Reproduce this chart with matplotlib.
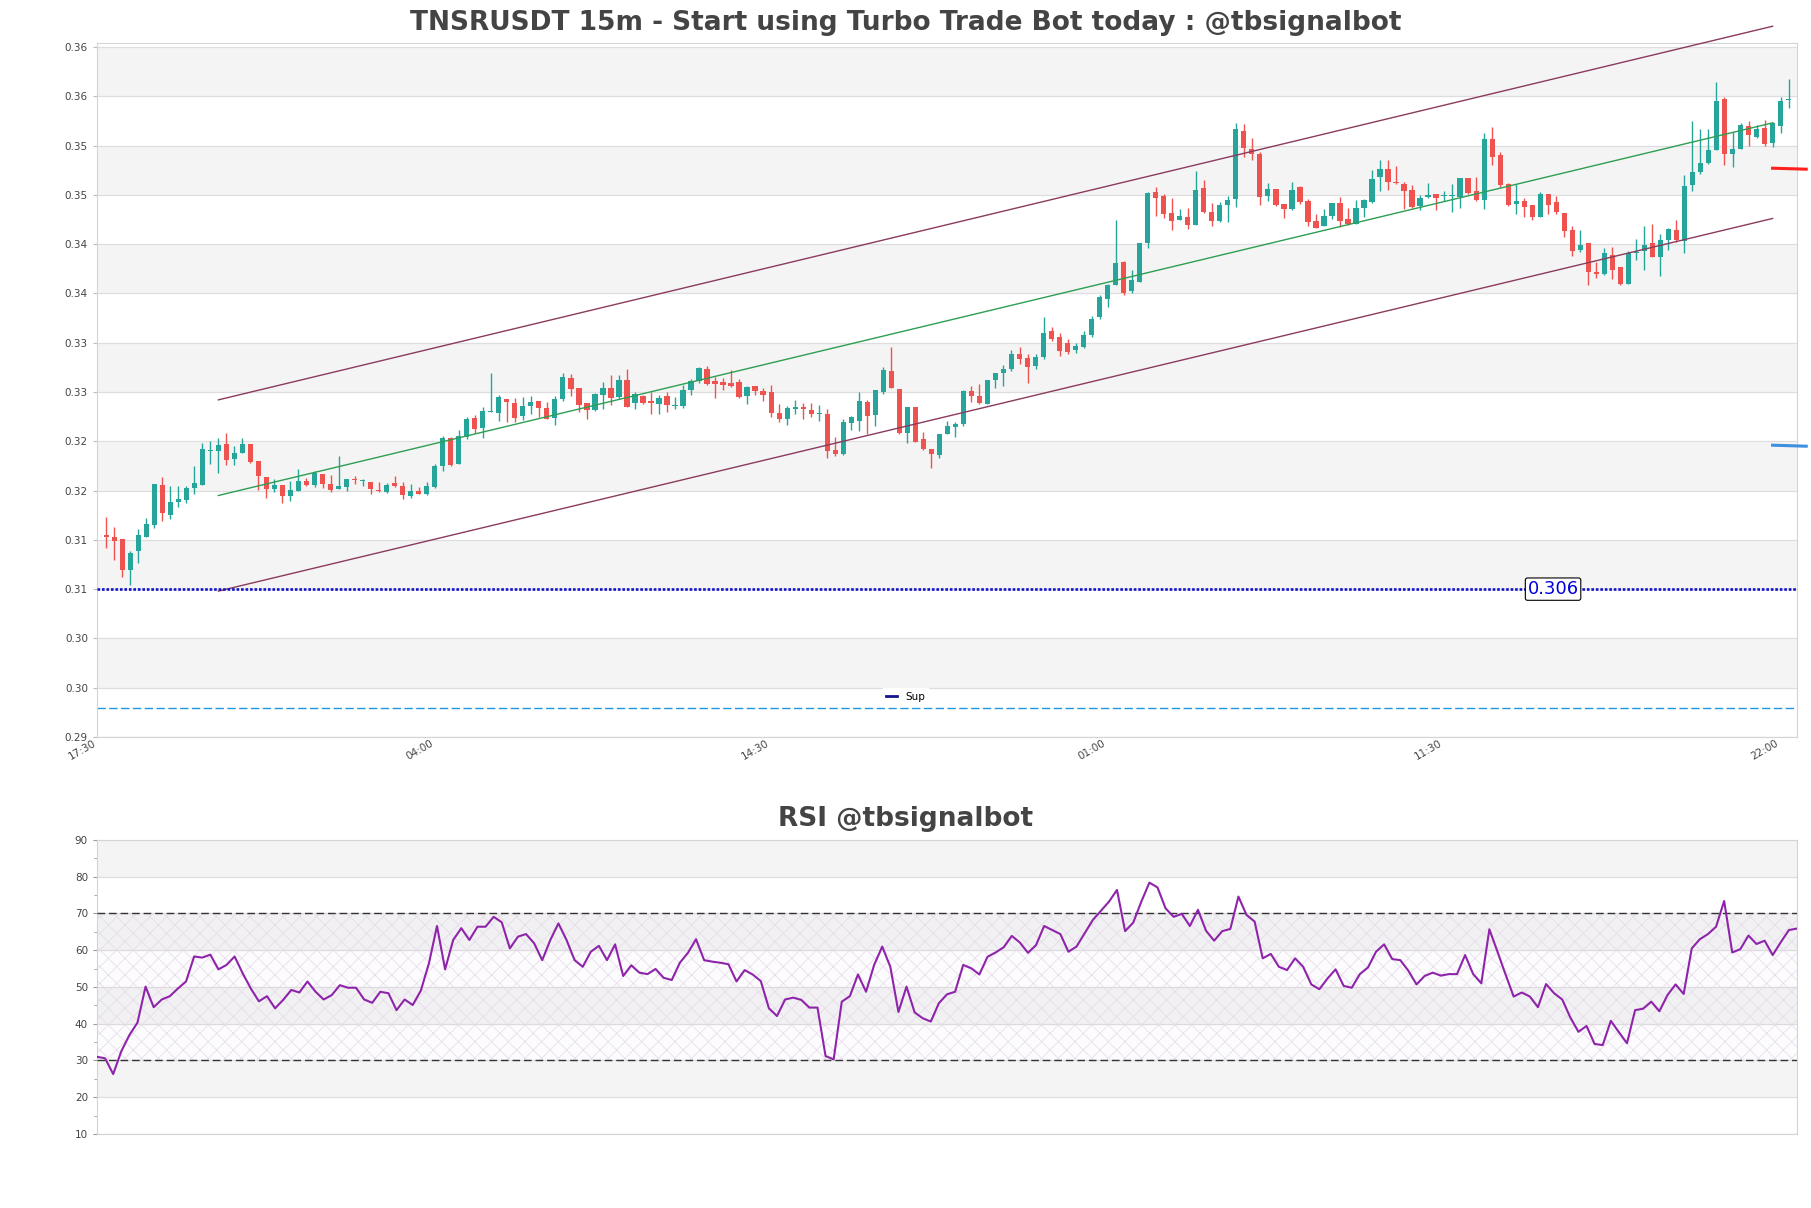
import matplotlib
matplotlib.use("Agg")
import matplotlib.pyplot as plt
from matplotlib.lines import Line2D
import numpy as np

# ---- values ----
time_labels = ["17:30", "04:00", "14:30", "01:00", "11:30", "22:00"]
time_pos = [-1, 41, 83, 125, 167, 209]

opens = [
    .3115, .3113, .3111, .3079, .3099, .3113, .3125, .3166, .3135, .3148,
    .3150, .3163, .3166, .3200, .3200, .3207, .3192, .3198, .3207, .3190,
    .3174, .3162, .3166, .3154, .3160, .3170, .3166, .3177, .3167, .3162,
    .3164, .3172, .3170, .3169, .3161, .3159, .3168, .3165, .3154, .3160,
    .3157, .3164, .3185, .3213, .3187, .3214, .3234, .3223, .3240, .3239,
    .3253, .3249, .3236, .3246, .3251, .3244, .3234, .3253, .3274, .3264,
    .3249, .3242, .3257, .3264, .3255, .3272, .3249, .3256, .3251, .3248,
    .3256, .3246, .3246, .3262, .3271, .3283, .3271, .3270, .3269, .3270,
    .3256, .3266, .3261, .3260, .3239, .3233, .3243, .3245, .3242, .3238,
    .3238, .3201, .3197, .3229, .3231, .3250, .3237, .3260, .3281, .3263,
    .3218, .3245, .3212, .3202, .3196, .3217, .3224, .3228, .3261, .3256,
    .3248, .3272, .3279, .3283, .3299, .3294, .3286, .3295, .3322, .3316,
    .3310, .3303, .3306, .3318, .3336, .3354, .3369, .3392, .3362, .3372,
    .3411, .3463, .3459, .3442, .3434, .3438, .3429, .3467, .3443, .3433,
    .3450, .3456, .3525, .3506, .3501, .3459, .3466, .3451, .3446, .3468,
    .3454, .3433, .3428, .3439, .3452, .3435, .3430, .3447, .3453, .3478,
    .3486, .3473, .3471, .3465, .3449, .3458, .3461, .3459, .3459, .3458,
    .3477, .3464, .3455, .3517, .3500, .3471, .3451, .3454, .3450, .3438,
    .3461, .3453, .3442, .3424, .3404, .3411, .3382, .3380, .3399, .3387,
    .3370, .3401, .3403, .3411, .3397, .3414, .3424, .3413, .3470, .3483,
    .3492, .3505, .3557, .3501, .3506, .3530, .3519, .3528, .3513, .3530,
    .3556,
]
highs = [
    .3133, .3123, .3111, .3099, .3121, .3132, .3167, .3174, .3165, .3165,
    .3165, .3185, .3208, .3210, .3213, .3218, .3205, .3213, .3207, .3190,
    .3174, .3172, .3166, .3170, .3182, .3173, .3180, .3177, .3176, .3195,
    .3172, .3175, .3172, .3169, .3169, .3168, .3175, .3169, .3167, .3164,
    .3169, .3187, .3215, .3214, .3221, .3235, .3237, .3245, .3279, .3257,
    .3253, .3254, .3255, .3256, .3251, .3250, .3256, .3279, .3278, .3264,
    .3249, .3259, .3270, .3277, .3277, .3283, .3260, .3257, .3260, .3257,
    .3260, .3255, .3267, .3273, .3285, .3286, .3275, .3274, .3282, .3273,
    .3266, .3266, .3264, .3267, .3248, .3246, .3252, .3249, .3249, .3247,
    .3243, .3214, .3233, .3236, .3260, .3252, .3262, .3285, .3306, .3263,
    .3245, .3245, .3219, .3202, .3217, .3231, .3230, .3262, .3266, .3268,
    .3272, .3279, .3287, .3303, .3306, .3299, .3299, .3336, .3326, .3320,
    .3314, .3310, .3322, .3337, .3358, .3370, .3434, .3393, .3384, .3411,
    .3463, .3468, .3461, .3457, .3446, .3447, .3484, .3475, .3452, .3453,
    .3459, .3533, .3532, .3518, .3503, .3472, .3466, .3451, .3473, .3469,
    .3456, .3441, .3446, .3452, .3458, .3447, .3455, .3456, .3485, .3495,
    .3495, .3489, .3473, .3470, .3460, .3472, .3461, .3464, .3471, .3477,
    .3477, .3478, .3523, .3529, .3503, .3472, .3471, .3457, .3450, .3463,
    .3461, .3459, .3442, .3428, .3424, .3411, .3392, .3406, .3407, .3387,
    .3403, .3415, .3428, .3430, .3420, .3426, .3434, .3480, .3535, .3527,
    .3527, .3574, .3559, .3524, .3533, .3535, .3531, .3536, .3534, .3559,
    .3577,
]
lows = [
    .3102, .3090, .3072, .3064, .3087, .3113, .3122, .3129, .3131, .3143,
    .3147, .3157, .3166, .3187, .3178, .3186, .3186, .3198, .3188, .3161,
    .3152, .3159, .3147, .3149, .3160, .3165, .3164, .3163, .3159, .3162,
    .3160, .3167, .3165, .3157, .3159, .3158, .3164, .3151, .3152, .3156,
    .3155, .3163, .3180, .3185, .3187, .3212, .3218, .3213, .3240, .3231,
    .3230, .3230, .3232, .3238, .3235, .3233, .3226, .3251, .3256, .3240,
    .3233, .3241, .3243, .3247, .3253, .3245, .3243, .3248, .3238, .3238,
    .3240, .3243, .3244, .3257, .3269, .3267, .3254, .3262, .3265, .3254,
    .3248, .3257, .3251, .3235, .3230, .3227, .3238, .3233, .3235, .3231,
    .3193, .3195, .3196, .3221, .3220, .3217, .3225, .3258, .3264, .3217,
    .3208, .3209, .3201, .3183, .3193, .3217, .3214, .3225, .3250, .3248,
    .3248, .3264, .3266, .3281, .3288, .3269, .3283, .3293, .3312, .3297,
    .3299, .3300, .3305, .3316, .3334, .3346, .3369, .3358, .3360, .3372,
    .3406, .3439, .3436, .3424, .3434, .3425, .3429, .3442, .3428, .3432,
    .3432, .3448, .3498, .3495, .3450, .3454, .3449, .3436, .3445, .3451,
    .3428, .3426, .3428, .3435, .3427, .3429, .3430, .3437, .3452, .3464,
    .3465, .3471, .3446, .3447, .3445, .3457, .3445, .3454, .3443, .3447,
    .3461, .3454, .3446, .3490, .3468, .3449, .3441, .3437, .3434, .3438,
    .3441, .3441, .3417, .3398, .3402, .3369, .3376, .3379, .3375, .3369,
    .3370, .3394, .3384, .3397, .3378, .3404, .3412, .3401, .3464, .3481,
    .3491, .3505, .3490, .3488, .3506, .3510, .3518, .3510, .3509, .3523,
    .3548,
]
closes = [
    .3113, .3109, .3079, .3097, .3115, .3126, .3167, .3137, .3148, .3151,
    .3163, .3168, .3202, .3201, .3206, .3191, .3198, .3207, .3189, .3175,
    .3162, .3166, .3154, .3161, .3170, .3166, .3178, .3167, .3161, .3165,
    .3172, .3171, .3171, .3162, .3160, .3166, .3165, .3155, .3160, .3157,
    .3165, .3185, .3213, .3186, .3215, .3233, .3222, .3241, .3241, .3255,
    .3250, .3234, .3246, .3250, .3244, .3233, .3253, .3275, .3263, .3247,
    .3242, .3258, .3264, .3254, .3272, .3245, .3258, .3249, .3249, .3254,
    .3247, .3247, .3262, .3271, .3284, .3268, .3268, .3267, .3266, .3255,
    .3265, .3261, .3257, .3239, .3233, .3244, .3245, .3243, .3238, .3239,
    .3200, .3197, .3230, .3235, .3251, .3236, .3262, .3282, .3264, .3218,
    .3245, .3209, .3202, .3197, .3217, .3225, .3228, .3261, .3256, .3249,
    .3272, .3279, .3283, .3299, .3293, .3285, .3295, .3320, .3314, .3302,
    .3301, .3307, .3318, .3334, .3356, .3369, .3391, .3360, .3374, .3411,
    .3462, .3457, .3441, .3433, .3439, .3429, .3465, .3443, .3433, .3450,
    .3455, .3527, .3507, .3501, .3458, .3466, .3450, .3446, .3465, .3453,
    .3432, .3426, .3439, .3452, .3433, .3430, .3447, .3455, .3476, .3486,
    .3473, .3472, .3464, .3448, .3457, .3460, .3457, .3460, .3460, .3477,
    .3462, .3455, .3517, .3498, .3470, .3450, .3454, .3448, .3438, .3461,
    .3450, .3443, .3423, .3403, .3409, .3382, .3380, .3401, .3384, .3370,
    .3401, .3402, .3409, .3397, .3414, .3425, .3414, .3469, .3483, .3492,
    .3505, .3555, .3501, .3506, .3531, .3521, .3527, .3512, .3533, .3555,
    .3557,
]

rsi = [
    31.0, 30.6, 26.3, 32.5, 36.9, 40.3, 50.1, 44.5, 46.6, 47.5,
    49.6, 51.5, 58.3, 58.0, 58.8, 54.8, 56.0, 58.3, 53.7, 49.6,
    46.1, 47.5, 44.2, 46.5, 49.2, 48.5, 51.5, 48.7, 46.6, 47.8,
    50.5, 49.8, 49.8, 46.6, 45.7, 48.7, 48.3, 43.7, 46.6, 45.1,
    49.0, 56.4, 66.6, 54.8, 62.8, 66.0, 62.8, 66.4, 66.4, 69.1,
    67.6, 60.5, 63.7, 64.4, 61.9, 57.3, 62.8, 67.3, 62.8, 57.3,
    55.5, 59.6, 61.2, 57.3, 61.6, 53.0, 55.9, 53.9, 53.5, 54.9,
    52.5, 51.9, 56.6, 59.3, 63.0, 57.3, 56.9, 56.6, 56.2, 51.5,
    54.6, 53.4, 51.6, 44.2, 42.1, 46.6, 47.1, 46.5, 44.4, 44.4,
    31.2, 30.3, 46.0, 47.5, 53.4, 48.7, 56.0, 61.0, 55.5, 43.2,
    50.1, 43.1, 41.5, 40.6, 45.6, 48.0, 48.7, 56.0, 55.1, 53.4,
    58.2, 59.4, 60.8, 63.9, 62.1, 59.3, 61.4, 66.6, 65.5, 64.4,
    59.6, 61.0, 64.6, 68.2, 70.7, 73.2, 76.4, 65.2, 67.5, 73.2,
    78.4, 77.1, 71.4, 69.1, 69.9, 66.6, 71.0, 65.3, 62.6, 65.2,
    65.8, 74.6, 69.6, 67.8, 57.8, 59.0, 55.5, 54.6, 57.8, 55.5,
    50.7, 49.4, 52.3, 54.8, 50.3, 49.8, 53.5, 55.3, 59.6, 61.6,
    57.6, 57.3, 54.4, 50.7, 53.0, 53.9, 53.1, 53.5, 53.5, 58.7,
    53.5, 51.0, 65.7, 59.6, 53.4, 47.4, 48.5, 47.4, 44.5, 50.8,
    48.3, 46.6, 41.7, 37.8, 39.4, 34.5, 34.2, 40.8, 37.7, 34.7,
    43.7, 44.1, 46.0, 43.4, 47.8, 50.7, 48.1, 60.5, 63.0, 64.4,
    66.4, 73.4, 59.4, 60.3, 64.0, 61.7, 62.6, 58.7, 62.2, 65.5,
    65.9,
]

support = 0.306
support_label_x = 180.6
lower_dash = 0.2939
channel_x = [14, 208]
channel_upper = [0.3252, 0.3631]
channel_mid = [0.3155, 0.3533]
channel_lower = [0.3058, 0.3436]
proj_x = [208, 212.2]
proj_red = [0.3487, 0.3486]
proj_blue = [0.3206, 0.3205]

UP, DOWN = "#26a69a", "#ef5350"
TXT = "#444444"
BAND = "#f4f4f4"
GRID = "#dedede"
SPINE = "#d4d4d4"

plt.rcParams["hatch.linewidth"] = 0.5

fig = plt.figure(figsize=(18.11, 12.08), dpi=100)
ax = fig.add_axes([0.05356, 0.3899, 0.93871, 0.5745])
ax2 = fig.add_axes([0.05356, 0.06126, 0.93871, 0.24338])

# ---- price panel ----
o = np.array(opens)
c = np.array(closes)
x = np.arange(len(o))
cols = np.where(c >= o, UP, DOWN)
ax.vlines(x, lows, highs, colors=cols, lw=1.0, zorder=3)
body = np.maximum(np.abs(c - o), 0.00007)
ax.bar(x, body, width=0.66, bottom=np.minimum(o, c), color=cols, lw=0, zorder=4)

yticks = np.arange(0.291, 0.3612, 0.005)
ax.set_ylim(0.291, 0.3614)
ax.set_xlim(-1.15, 211.05)
for k in range(1, len(yticks) - 1, 2):
    ax.axhspan(yticks[k], yticks[k + 1], color=BAND, lw=0, zorder=0)
ax.set_yticks(yticks)
ax.set_yticklabels([f"{v:.2f}" for v in yticks])
ax.grid(axis="y", color=GRID, lw=0.9, zorder=1)
ax.set_axisbelow(True)
ax.set_xticks(time_pos)
ax.set_xticklabels(time_labels, rotation=30, ha="right")
ax.tick_params(axis="x", length=0, pad=1, labelsize=7.5, labelcolor=TXT)
ax.tick_params(axis="y", length=3, color="#bbbbbb", labelsize=7.5, labelcolor=TXT)

line_col = "#8a3b5e"
ax.plot(channel_x, channel_upper, color=line_col, lw=1, zorder=5, clip_on=False)
ax.plot(channel_x, channel_lower, color=line_col, lw=1, zorder=5, clip_on=False)
ax.plot(channel_x, channel_mid, color="#2e9e52", lw=1, zorder=5, clip_on=False)
ax.plot(proj_x, proj_red, color="#ff1f1f", lw=2.2, zorder=6, clip_on=False)
ax.plot(proj_x, proj_blue, color="#3d8fe0", lw=2.2, zorder=6, clip_on=False)

ax.axhline(support, color="#1212c8", lw=1.9, ls=(0, (1, 0.7)), zorder=5)
ax.axhline(lower_dash, color="#2196e0", lw=1.0, ls=(0, (6, 2.5)), zorder=2)
ax.text(support_label_x, support, f"{support:.3f}", color="#0000dd", fontsize=13,
        ha="center", va="center", zorder=7,
        bbox=dict(boxstyle="round,pad=0.12", fc="white", ec="black", lw=0.8))

for sp in ax.spines.values():
    sp.set_color(SPINE)

sup_handle = Line2D([], [], color="#14148c", lw=2)
fig.legend([sup_handle], ["Sup"], loc="lower center", bbox_to_anchor=(0.5, 0.411),
           fontsize=7.5, handlelength=1.0, frameon=True, framealpha=1,
           edgecolor="white", facecolor="white", borderpad=0.4)

# ---- RSI panel ----
xr = np.arange(len(rsi))
ax2.set_xlim(0, len(rsi) - 1)
ax2.set_ylim(10, 90)
for lo in (20, 40, 60, 80):
    ax2.axhspan(lo, lo + 10, color=BAND, lw=0, zorder=0)
ax2.axhspan(30, 70, facecolor=(0.55, 0.25, 0.6, 0.02), edgecolor="#e6dae8",
            hatch="xx", lw=0, zorder=1)
ax2.set_yticks(range(10, 91, 10))
ax2.set_yticks(range(15, 90, 10), minor=True)
ax2.grid(axis="y", which="major", color=GRID, lw=0.9)
ax2.set_axisbelow(True)
ax2.axhline(70, color="#333333", lw=1.0, ls=(0, (5.5, 2.8)), zorder=3)
ax2.axhline(30, color="#333333", lw=1.0, ls=(0, (5.5, 2.8)), zorder=3)
ax2.plot(xr, rsi, color="#8e24aa", lw=1.5, zorder=4)
ax2.set_xticks([])
ax2.tick_params(axis="y", which="major", length=3, color="#999999", labelsize=7.5, labelcolor=TXT)
ax2.tick_params(axis="y", which="minor", length=2, color="#999999")
for sp in ax2.spines.values():
    sp.set_color(SPINE)

fig.text(0.5, 0.981, "TNSRUSDT 15m - Start using Turbo Trade Bot today : @tbsignalbot",
         ha="center", va="center", fontsize=19, fontweight="bold", color=TXT)
fig.text(0.5, 0.322, "RSI @tbsignalbot", ha="center", va="center",
         fontsize=19, fontweight="bold", color=TXT)

fig.savefig("out.png", dpi=100)
